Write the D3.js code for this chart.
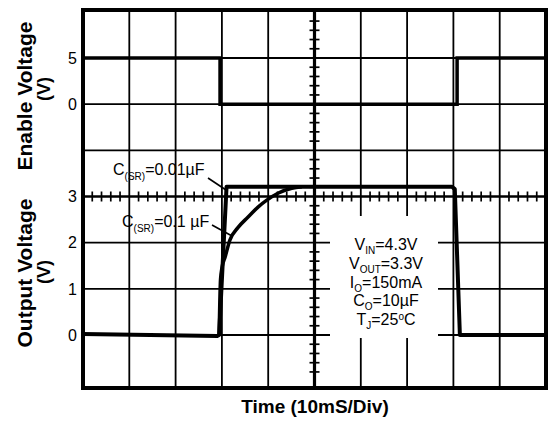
<!DOCTYPE html>
<html>
<head>
<meta charset="utf-8">
<script src="https://cdn.jsdelivr.net/npm/d3@7"></script>
<style>
  body { margin: 0; background: #fff; }
  text { font-family: "Liberation Sans", Arial, sans-serif; fill: #000; }
</style>
</head>
<body>
<div id="chart"></div>
<script>
const width = 548;
const height = 423;

// time in divisions (10mS/div)
const gridDivs = [1, 2, 3, 4, 5, 6, 7, 8, 9];
const gridVolts = [0, 1, 2, 3, 4, 5, 6]; // horizontal grid lines, in output-volt units
const outTicks = [0, 1, 2, 3];
const enTicks = [0, 5];

const enableT = [0, 2.96, 2.96, 8.08, 8.08, 10];
const enableV = [5, 5, 0, 0, 5, 5];

// C(SR) = 0.01uF
const fastT = [0, 2.9, 2.94, 3.1, 7.97, 8.03, 8.14, 10];
const fastV = [0.02, -0.02, 0, 3.21, 3.21, 3.16, 0, 0];

// C(SR) = 0.1uF
const slowT = [2.94, 2.97, 3.0, 3.07, 3.17, 3.35, 3.56, 3.78, 3.97, 4.21, 4.51, 4.73];
const slowV = [0, 1.2, 1.45, 1.69, 2.05, 2.33, 2.55, 2.77, 2.92, 3.07, 3.18, 3.21];

const condLines = [
  ["V", "IN", "=4.3V"],
  ["V", "OUT", "=3.3V"],
  ["I", "O", "=150mA"],
  ["C", "O", "=10\u00b5F"],
  ["T", "J", "=25", "o", "C"],
];

const box = { left: 83, right: 546, top: 10, bottom: 388 };

const svg = d3
  .select("#chart")
  .append("svg")
  .attr("width", width)
  .attr("height", height);

const x = d3.scaleLinear().domain([0, 10]).range([box.left, box.right]);
const yOut = d3.scaleLinear().domain([0, 3]).range([335, 196.5]);
const yEn = d3.scaleLinear().domain([0, 5]).range([104.2, 58]);

// grid
svg
  .selectAll(".vgrid")
  .data(gridDivs)
  .join("line")
  .attr("x1", (d) => x(d))
  .attr("x2", (d) => x(d))
  .attr("y1", box.top)
  .attr("y2", box.bottom)
  .attr("stroke", "#000")
  .attr("stroke-width", (d) => (d === 5 ? 3.2 : 1.8));

svg
  .selectAll(".hgrid")
  .data(gridVolts)
  .join("line")
  .attr("x1", box.left)
  .attr("x2", box.right)
  .attr("y1", (d) => yOut(d))
  .attr("y2", (d) => yOut(d))
  .attr("stroke", "#000")
  .attr("stroke-width", (d) => (d === 3 ? 2.6 : 1.8));

// minor ticks on the centre cross
const hMinor = d3.range(0.2, 10, 0.2).filter((d) => Math.abs(d - Math.round(d)) > 0.05);
svg
  .selectAll(".hminor")
  .data(hMinor)
  .join("line")
  .attr("x1", (d) => x(d))
  .attr("x2", (d) => x(d))
  .attr("y1", yOut(3) - 5)
  .attr("y2", yOut(3) + 5)
  .attr("stroke", "#000")
  .attr("stroke-width", 1.7);

const vMinor = d3.range(-1.0, 7.0, 0.2).filter((d) => Math.abs(d - Math.round(d)) > 0.05);
svg
  .selectAll(".vminor")
  .data(vMinor)
  .join("line")
  .attr("x1", x(5) - 5)
  .attr("x2", x(5) + 5)
  .attr("y1", (d) => yOut(d))
  .attr("y2", (d) => yOut(d))
  .attr("stroke", "#000")
  .attr("stroke-width", 1.7);

// white area behind the conditions text
svg
  .append("rect")
  .attr("x", 330)
  .attr("y", 216)
  .attr("width", 108)
  .attr("height", 122)
  .attr("fill", "#fff");

// traces
const enLine = d3
  .line()
  .x((d, i) => x(enableT[i]))
  .y((d) => yEn(d));

svg
  .append("path")
  .attr("d", enLine(enableV))
  .attr("fill", "none")
  .attr("stroke", "#000")
  .attr("stroke-width", 3.5);

const fastLine = d3
  .line()
  .x((d, i) => x(fastT[i]))
  .y((d) => yOut(d));

svg
  .append("path")
  .attr("d", fastLine(fastV))
  .attr("fill", "none")
  .attr("stroke", "#000")
  .attr("stroke-width", 4)
  .attr("stroke-linejoin", "round");

const slowLine = d3
  .line()
  .x((d, i) => x(slowT[i]))
  .y((d) => yOut(d))
  .curve(d3.curveMonotoneX);

svg
  .append("path")
  .attr("d", slowLine(slowV))
  .attr("fill", "none")
  .attr("stroke", "#000")
  .attr("stroke-width", 3.5);

// frame
svg
  .append("rect")
  .attr("x", box.left)
  .attr("y", box.top)
  .attr("width", box.right - box.left)
  .attr("height", box.bottom - box.top)
  .attr("fill", "none")
  .attr("stroke", "#000")
  .attr("stroke-width", 4);

// tick labels
svg
  .selectAll(".outlab")
  .data(outTicks)
  .join("text")
  .attr("x", 77)
  .attr("y", (d) => yOut(d))
  .attr("dy", "0.36em")
  .attr("text-anchor", "end")
  .style("font-size", "16px")
  .text((d) => d);

svg
  .selectAll(".enlab")
  .data(enTicks)
  .join("text")
  .attr("x", 77)
  .attr("y", (d) => yEn(d))
  .attr("dy", "0.36em")
  .attr("text-anchor", "end")
  .style("font-size", "16px")
  .text((d) => d);

// axis titles
function vTitle(cx, cy, size, txt) {
  svg
    .append("text")
    .attr("transform", `translate(${cx},${cy}) rotate(-90)`)
    .attr("text-anchor", "middle")
    .style("font-size", size + "px")
    .style("font-weight", "bold")
    .text(txt);
}
vTitle(32, 96, 21, "Enable Voltage");
vTitle(50, 89, 18, "(V)");
vTitle(32, 273, 21, "Output Voltage");
vTitle(50, 272, 18, "(V)");

svg
  .append("text")
  .attr("x", 315)
  .attr("y", 413)
  .attr("text-anchor", "middle")
  .style("font-size", "19px")
  .style("font-weight", "bold")
  .text("Time (10mS/Div)");

// curve annotations
function capLabel(xx, yy, val) {
  const t = svg
    .append("text")
    .attr("x", xx)
    .attr("y", yy)
    .style("font-size", "16px");
  t.append("tspan").text("C");
  t.append("tspan").attr("dy", 5).style("font-size", "10px").text("(SR)");
  t.append("tspan").attr("dy", -5).text(val);
}
capLabel(113, 175, "=0.01\u00b5F");
capLabel(122, 227, "=0.1 \u00b5F");

svg
  .append("line")
  .attr("x1", 208).attr("y1", 178)
  .attr("x2", 226).attr("y2", 190)
  .attr("stroke", "#000")
  .attr("stroke-width", 1.6);
svg
  .append("line")
  .attr("x1", 212).attr("y1", 225)
  .attr("x2", 232).attr("y2", 236)
  .attr("stroke", "#000")
  .attr("stroke-width", 1.6);

// test conditions
condLines.forEach((parts, i) => {
  const t = svg
    .append("text")
    .attr("x", 386)
    .attr("y", 250 + i * 18.8)
    .attr("text-anchor", "middle")
    .style("font-size", "16px");
  t.append("tspan").text(parts[0]);
  t.append("tspan").attr("dy", 4).style("font-size", "10px").text(parts[1]);
  t.append("tspan").attr("dy", -4).text(parts[2]);
  if (parts.length > 3) {
    t.append("tspan").attr("dy", -5).style("font-size", "10px").text(parts[3]);
    t.append("tspan").attr("dy", 5).text(parts[4]);
  }
});
</script>
</body>
</html>
